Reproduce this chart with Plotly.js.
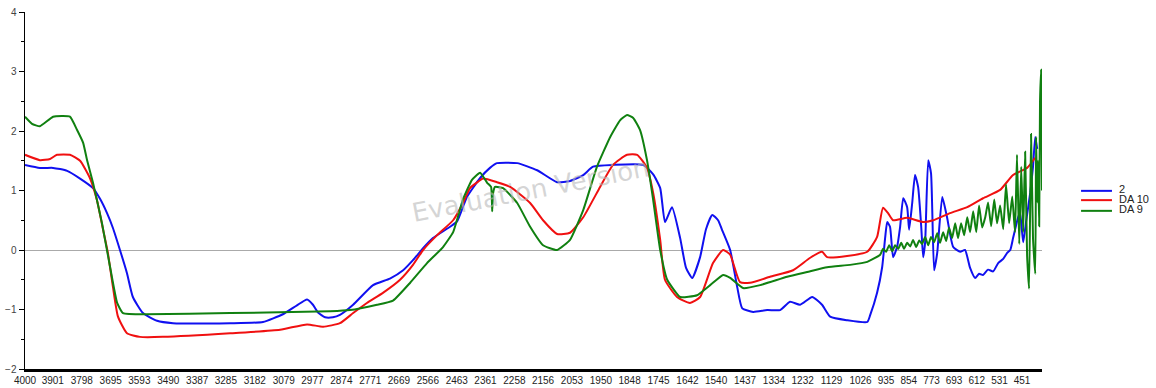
<!DOCTYPE html>
<html>
<head>
<meta charset="utf-8">
<script src="https://cdn.plot.ly/plotly-3.0.1.min.js"></script>
<style>
  html, body { margin: 0; padding: 0; background: #fff; }
  #chart { width: 1156px; height: 388px; }
</style>
</head>
<body>
<div id="chart"></div>
<script>
// Wavenumber tick labels (cm-1)
const tickValues = [4000,3901,3798,3695,3593,3490,3387,3285,3182,3079,2977,2874,2771,2669,2566,2463,2361,2258,2156,2053,1950,1848,1745,1642,1540,1437,1334,1232,1129,1026,935,854,773,693,612,531,451];
const tickLabels = tickValues.map(String);

// Series "2" (blue): wavenumber, value
const blueX = [4000,3947,3900,3875,3850,3804,3758,3733,3708,3687,3662,3637,3616,3580,3530,3473,3270,3153,3082,3032,2996,2975,2957,2932,2904,2879,2832,2761,2701,2654,2619,2583,2548,2487,2462,2427,2380,2345,2320,2248,2177,2106,2060,2013,1978,1907,1800,1764,1739,1722,1697,1668,1647,1625,1597,1576,1554,1533,1519,1490,1465,1447,1408,1358,1312,1277,1241,1198,1163,1134,1074,1002,992,967,949,938,931,921,910,896,885,874,860,853,842,832,821,810,803,796,785,775,764,753,735,718,696,671,654,636,618,604,590,572,554,536,518,504,493,483,476,465,458,447,436,422,412,404,397];
const blueY = [1.43,1.38,1.38,1.36,1.33,1.20,1.04,0.86,0.62,0.37,0.0,-0.39,-0.79,-1.06,-1.19,-1.23,-1.23,-1.21,-1.08,-0.93,-0.83,-0.92,-1.05,-1.13,-1.13,-1.09,-0.92,-0.59,-0.48,-0.34,-0.17,0.03,0.2,0.39,0.48,0.89,1.21,1.38,1.46,1.46,1.34,1.14,1.16,1.26,1.40,1.43,1.43,1.27,1.04,0.47,0.72,0.2,-0.3,-0.47,-0.12,0.35,0.59,0.5,0.34,0.0,-0.62,-0.98,-1.04,-1.01,-1.01,-0.87,-0.92,-0.79,-0.92,-1.12,-1.18,-1.21,-1.10,-0.72,-0.29,0.22,0.47,0.39,-0.12,0.05,0.39,0.87,0.72,0.34,0.79,1.26,1.06,0.4,-0.12,0.13,1.51,1.29,-0.34,-0.05,0.89,0.55,0.05,-0.03,0.0,-0.3,-0.47,-0.40,-0.42,-0.33,-0.36,-0.22,-0.15,-0.05,0.0,0.2,0.34,0.55,0.62,0.13,0.5,0.96,1.4,1.90,1.7];

// Series "DA 10" (red)
const redX = [4000,3947,3911,3886,3840,3804,3769,3744,3722,3705,3687,3669,3637,3591,3509,3270,3092,2996,2939,2879,2832,2783,2726,2665,2619,2583,2533,2476,2441,2416,2387,2370,2320,2273,2202,2156,2106,2060,2013,1953,1907,1857,1821,1786,1764,1739,1722,1679,1633,1597,1551,1515,1490,1455,1419,1348,1266,1205,1163,1145,1074,1002,967,946,928,910,860,803,767,707,646,590,529,483,433,404];
const redY = [1.60,1.51,1.53,1.60,1.60,1.50,1.21,0.84,0.34,-0.05,-0.62,-1.12,-1.40,-1.46,-1.46,-1.40,-1.34,-1.25,-1.29,-1.23,-1.06,-0.89,-0.72,-0.50,-0.25,0.0,0.25,0.50,0.79,1.04,1.15,1.20,1.14,1.06,0.79,0.50,0.27,0.29,0.55,1.06,1.43,1.60,1.60,1.38,0.96,0.17,-0.50,-0.79,-0.89,-0.79,-0.22,0.0,-0.08,-0.54,-0.55,-0.45,-0.34,-0.13,-0.03,-0.12,-0.10,-0.03,0.22,0.71,0.62,0.50,0.54,0.47,0.50,0.62,0.72,0.87,1.01,1.26,1.38,1.55];

// Series "DA 9" (green)
const greenX = [4000,3975,3947,3900,3840,3815,3793,3779,3758,3744,3726,3697,3672,3651,3566,3270,2914,2843,2747,2690,2629,2569,2512,2476,2441,2409,2380,2355,2341,2337,2334,2327,2298,2248,2202,2156,2106,2060,2013,1964,1917,1882,1857,1835,1811,1786,1764,1739,1714,1668,1608,1561,1515,1490,1444,1383,1287,1216,1145,1063,1002,956,946,935,924,913,903,892,881,871,860,849,839,828,817,807,796,785,775,764,753,743,732,721,711,700,689,679,668,657,646,636,625,614,604,593,582,572,561,550,540,529,518,508,497,486,476,469,461,454,447,440,433,426,419,412,404,401,397,394,390,387,383,380];
const greenY = [2.24,2.12,2.08,2.24,2.24,2.02,1.80,1.51,1.13,0.84,0.45,-0.29,-0.89,-1.06,-1.08,-1.06,-1.03,-1.01,-0.92,-0.85,-0.55,-0.22,0.05,0.3,0.85,1.18,1.30,1.13,1.06,0.65,0.95,1.06,1.04,0.79,0.39,0.08,0.0,0.17,0.67,1.40,1.90,2.18,2.27,2.22,2.02,1.51,0.84,0.0,-0.50,-0.79,-0.76,-0.59,-0.42,-0.47,-0.64,-0.59,-0.45,-0.37,-0.29,-0.25,-0.2,-0.08,0.02,-0.03,0.08,-0.02,0.08,0.02,0.12,0.02,0.12,0.06,0.17,0.05,0.16,0.1,0.22,0.08,0.22,0.13,0.28,0.12,0.3,0.15,0.38,0.2,0.45,0.2,0.45,0.25,0.55,0.3,0.65,0.3,0.75,0.38,0.55,0.8,0.4,0.85,0.45,0.75,0.35,1.1,0.45,0.9,0.3,1.6,0.1,1.4,0.3,1.65,-0.1,-0.65,1.95,0.2,-0.4,1.9,0.8,1.5,0.4,2.5,3.03,1.0];

const seriesNames = ["2", "DA 10", "DA 9"];
const seriesColors = ["#1010f0", "#f01010", "#108010"];

const traces = [
  {x: blueX, y: blueY, name: seriesNames[0], type: "scatter", mode: "lines", line: {color: seriesColors[0], width: 2, shape: "spline", smoothing: 0.5}},
  {x: redX, y: redY, name: seriesNames[1], type: "scatter", mode: "lines", line: {color: seriesColors[1], width: 2, shape: "spline", smoothing: 0.5}},
  {x: greenX, y: greenY, name: seriesNames[2], type: "scatter", mode: "lines", line: {color: seriesColors[2], width: 2, shape: "spline", smoothing: 0.4}}
];

// Compact legend (line swatch + label), placed right of the plot area
const legendLineY = [0.499, 0.473, 0.443];
const legendShapes = seriesNames.map((n, i) => ({
  type: "line", xref: "paper", yref: "paper", x0: 1.0384, x1: 1.0688,
  y0: legendLineY[i], y1: legendLineY[i], line: {color: seriesColors[i], width: 2}
}));
const legendLabels = seriesNames.map((n, i) => ({
  text: n, xref: "paper", yref: "paper", x: 1.0737, y: legendLineY[i] + 0.004,
  xanchor: "left", yanchor: "middle", showarrow: false,
  font: {size: 11, color: "#222", family: "Liberation Sans, Arial, sans-serif"}
}));

const layout = {
  width: 1156, height: 388,
  margin: {l: 25, r: 114, t: 12, b: 19, pad: 0},
  paper_bgcolor: "#ffffff", plot_bgcolor: "#ffffff",
  font: {family: "Liberation Sans, Arial, sans-serif", size: 10, color: "#333"},
  showlegend: false,
  xaxis: {
    range: [4000, 380], tickmode: "array", tickvals: tickValues, ticktext: tickLabels,
    showgrid: false, zeroline: false, showline: true, linecolor: "#000", linewidth: 3,
    ticks: "", tickangle: 0, tickfont: {size: 10, color: "#222"}
  },
  yaxis: {
    range: [-2, 4], dtick: 1, showgrid: false, showline: true, linecolor: "#000", linewidth: 1.5,
    ticks: "outside", ticklen: 5, tickcolor: "#000", tickwidth: 1,
    minor: {dtick: 0.5, ticks: "outside", ticklen: 3, tickcolor: "#000", showgrid: false},
    zeroline: true, zerolinecolor: "#aaaaaa", zerolinewidth: 1,
    tickfont: {size: 10, color: "#444"}
  },
  shapes: legendShapes,
  annotations: [{
    text: "Evaluation Version", xref: "paper", yref: "paper", x: 0.4975, y: 0.501,
    showarrow: false, textangle: -11,
    font: {size: 26, color: "rgba(185,185,185,0.6)", family: "DejaVu Sans, Verdana, sans-serif"}
  }].concat(legendLabels)
};

Plotly.newPlot("chart", traces, layout, {displayModeBar: false, staticPlot: true});
</script>
</body>
</html>
